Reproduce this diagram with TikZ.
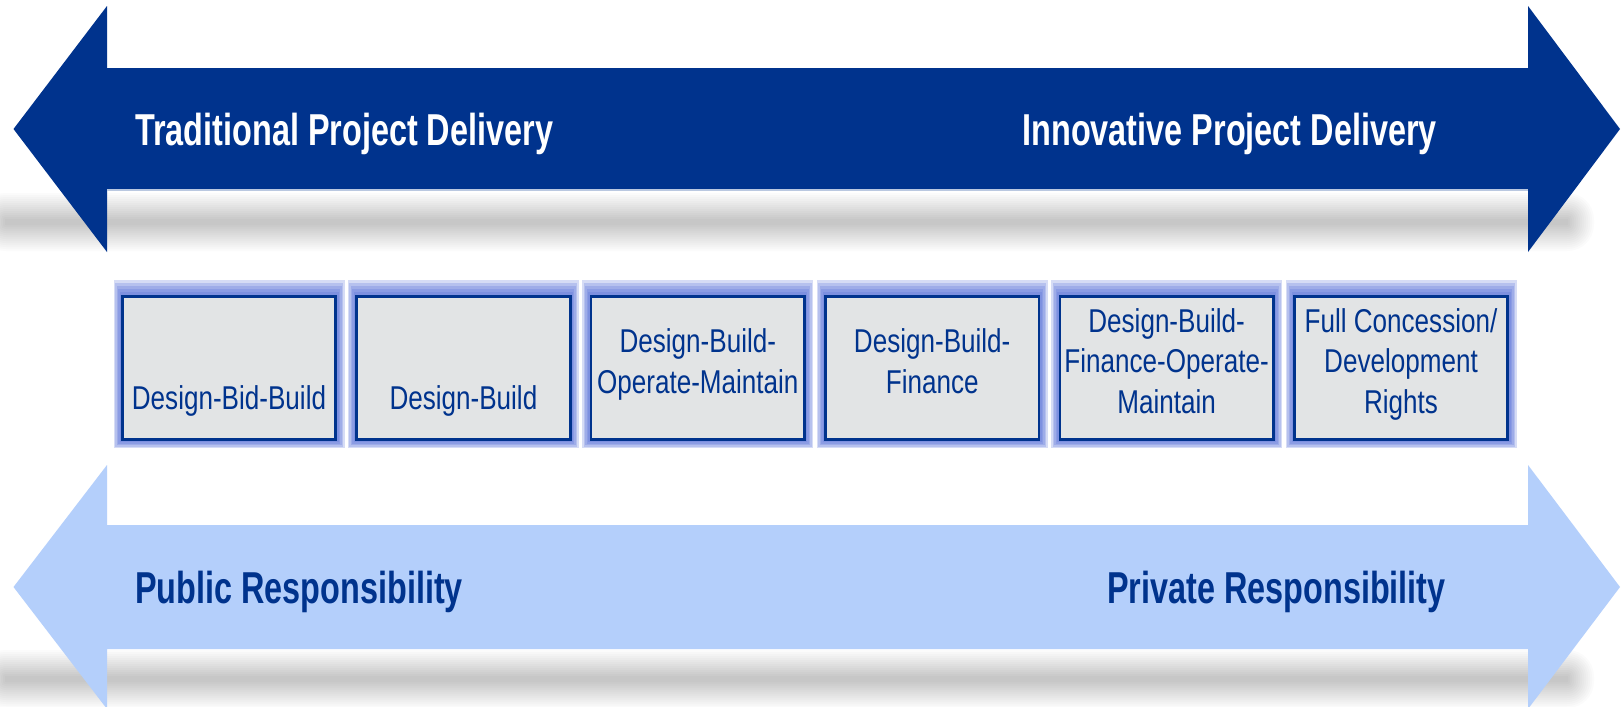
\documentclass[tikz,border=0pt]{standalone}
\usepackage{fontspec}
\setmainfont{Liberation Sans}
\newfontfamily\headfont{Liberation Sans Bold}[FakeStretch=0.725]
\newfontfamily\boxfont{Liberation Sans}[FakeStretch=0.79]

\definecolor{navy}{RGB}{0,51,141}
\definecolor{sky}{RGB}{180,207,251}
\definecolor{boxgray}{RGB}{226,228,229}
\definecolor{glowblue}{RGB}{80,105,215}
\definecolor{edgelight}{RGB}{186,200,224}

\tikzset{
  shadowlayer/.style={fill=black, fill opacity=0.014},
  glowlayer/.style={fill=glowblue, fill opacity=0.23},
  modelbox/.style={draw=navy, line width=2.7pt, fill=boxgray,
    minimum width=213.5pt, minimum height=143.5pt, inner sep=0pt},
  boxlabel/.style={font=\boxfont\fontsize{33}{40.5}\selectfont, text=navy,
    align=center, inner sep=0pt, anchor=base},
  headlabel/.style={font=\headfont\fontsize{44.7}{50}\selectfont, inner sep=0pt}
}

\begin{document}
\begin{tikzpicture}[x=1pt,y=-1pt]
\useasboundingbox (0,0) rectangle (1623,707);
\fill[white] (0,0) rectangle (1623,707);

% soft shadows under both arrows
\foreach \yc in {222,679}{
  \foreach \r in {0,2,...,26}{
    \fill[shadowlayer, rounded corners=\r+0.5]
      (5-\r,\yc-3-\r) rectangle (1568+\r,\yc+3+\r);
  }
}

% delivery arrow (top)
\fill[navy] (13.5,129) -- (107,6) -- (107,68) -- (1528,68) -- (1528,6)
  -- (1620,129) -- (1528,252) -- (1528,190) -- (107,190) -- (107,252) -- cycle;
\draw[edgelight, line width=1.5pt] (107,190.2) -- (1528,190.2);

% responsibility arrow (bottom)
\fill[sky] (13.5,587) -- (107,465) -- (107,525) -- (1528,525) -- (1528,465)
  -- (1620,587) -- (1528,709) -- (1528,649) -- (107,649) -- (107,709) -- cycle;

\node[headlabel, text=white, anchor=base west] (trad) at (135,145) {Traditional Project Delivery};
\node[headlabel, text=white, anchor=base east] (innov) at (1437,145) {Innovative Project Delivery};
\node[headlabel, text=navy, anchor=base west] (public) at (135,603) {Public Responsibility};
\node[headlabel, text=navy, anchor=base east] (private) at (1446,603) {Private Responsibility};

% glow behind the model boxes
\foreach \cx in {229,463.4,697.8,932.2,1166.6,1401}{
  \foreach \i in {1,...,5}{
    \fill[glowlayer] (\cx-108-1.5*\i,295-3*\i) rectangle (\cx+108+1.5*\i,441+1.4*\i);
  }
}

% delivery models
\node[modelbox] (b1) at (229,368) {};
\node[modelbox] (b2) at (463.4,368) {};
\node[modelbox] (b3) at (697.8,368) {};
\node[modelbox] (b4) at (932.2,368) {};
\node[modelbox] (b5) at (1166.6,368) {};
\node[modelbox] (b6) at (1401,368) {};

% labels: the base anchor sits on the last line
\node[boxlabel] (l1) at (229,409) {Design-Bid-Build};
\node[boxlabel] (l2) at (463.4,409) {Design-Build};
\node[boxlabel] (l3) at (697.8,393) {Design-Build-\\Operate-Maintain};
\node[boxlabel] (l4) at (932.2,393) {Design-Build-\\Finance};
\node[boxlabel] (l5) at (1166.6,413) {Design-Build-\\Finance-Operate-\\Maintain};
\node[boxlabel] (l6) at (1401,413) {Full Concession/\\Development\\Rights};
\end{tikzpicture}
\end{document}
